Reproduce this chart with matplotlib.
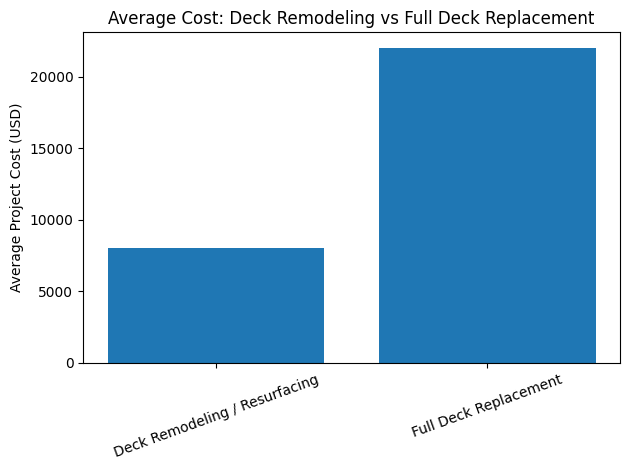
import matplotlib
matplotlib.use("Agg")
import matplotlib.pyplot as plt

categories = ["Deck Remodeling / Resurfacing", "Full Deck Replacement"]
avg_cost = [8000, 22000]

fig, ax = plt.subplots(figsize=(6.3, 4.7), dpi=100)
ax.bar(categories, avg_cost, color="#1f77b4")
ax.set_ylabel("Average Project Cost (USD)")
ax.set_title("Average Cost: Deck Remodeling vs Full Deck Replacement")
plt.xticks(rotation=20)
plt.tight_layout(pad=0.72)
plt.savefig("out.png")
